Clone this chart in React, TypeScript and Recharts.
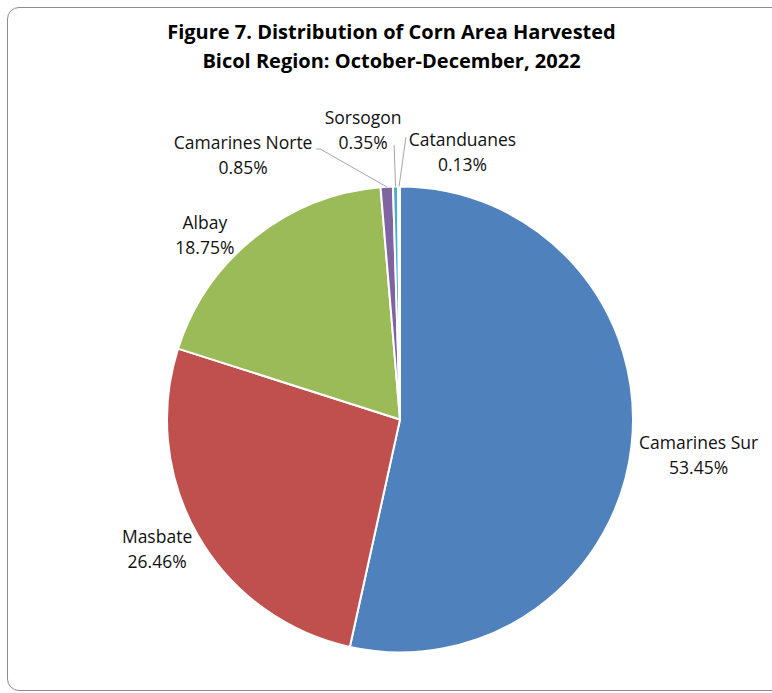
import React from 'react';
import { PieChart, Pie, Cell } from 'recharts';

const provinces = ['Camarines Sur', 'Masbate', 'Albay', 'Camarines Norte', 'Sorsogon', 'Catanduanes'];
const shares = [53.45, 26.46, 18.75, 0.85, 0.35, 0.13];
const sliceColors = ['#4F81BD', '#C0504D', '#9BBB59', '#8064A2', '#4BACC6', '#F79646'];
const titleLines = ['Figure 7. Distribution of Corn Area Harvested', 'Bicol Region: October-December, 2022'];

// label placement relative to each slice's outer edge point
const labelLayout: { dx: number; dy: number; line?: number[][] }[] = [
  { dx: 67, dy: 10 },
  { dx: -41, dy: 13 },
  { dx: -50, dy: -3 },
  { dx: -143.6, dy: -32, line: [[-66.6, -37.9], [-70.6, -37.9]] },
  { dx: -32.4, dy: -57.5, line: [[-1.4, -41.5]] },
  { dx: 63.4, dy: -35.5, line: [[6.9, -49.5]] },
];

const data = provinces.map((name, i) => ({ name, value: shares[i] }));

const FONT = "'Open Sans', sans-serif";
const RADIAN = Math.PI / 180;

const renderLabel = (props: any) => {
  const { cx, cy, midAngle, outerRadius, index } = props;
  const ex = cx + outerRadius * Math.cos(-midAngle * RADIAN);
  const ey = cy + outerRadius * Math.sin(-midAngle * RADIAN);
  const lay = labelLayout[index];
  const tx = ex + lay.dx;
  const ty = ey + lay.dy;
  const pts = lay.line ? [[ex, ey], ...lay.line.map(([a, b]) => [ex + a, ey + b])] : null;
  return (
    <g key={`lbl-${index}`}>
      {pts && (
        <polyline
          points={pts.map((p) => p.join(',')).join(' ')}
          fill="none"
          stroke="#A6A6A6"
          strokeWidth={1}
        />
      )}
      <text x={tx} y={ty - 12.5} textAnchor="middle" dominantBaseline="central" fill="#111" fontFamily={FONT} fontSize={17.5}>
        {provinces[index]}
      </text>
      <text x={tx} y={ty + 12.5} textAnchor="middle" dominantBaseline="central" fill="#111" fontFamily={FONT} fontSize={17.5}>
        {shares[index].toFixed(2)}%
      </text>
    </g>
  );
};

export default function App() {
  return (
    <div style={{ position: 'absolute', left: 0, top: 0, width: 772, height: 693, overflow: 'hidden', background: '#fff' }}>
      <div
        style={{
          position: 'absolute',
          left: 7,
          top: 7,
          width: 820,
          height: 684,
          border: '1.5px solid #8C8C8C',
          borderRadius: 12,
          boxSizing: 'border-box',
        }}
      />
      <div style={{ position: 'absolute', left: 0, top: 0 }}>
        <PieChart width={772} height={693} margin={{ top: 0, right: 0, bottom: 0, left: 0 }}>
          <text x={391.5} y={31} textAnchor="middle" dominantBaseline="central" fontFamily={FONT} fontWeight={700} fontSize={20} fill="#000">
            {titleLines[0]}
          </text>
          <text x={391.5} y={60} textAnchor="middle" dominantBaseline="central" fontFamily={FONT} fontWeight={700} fontSize={20} fill="#000">
            {titleLines[1]}
          </text>
          <Pie
            data={data}
            dataKey="value"
            nameKey="name"
            cx={400}
            cy={419.5}
            outerRadius={233}
            startAngle={90}
            endAngle={-270}
            stroke="#fff"
            strokeWidth={2}
            label={renderLabel}
            labelLine={false}
            isAnimationActive={false}
          >
            {data.map((d, i) => (
              <Cell key={d.name} fill={sliceColors[i]} />
            ))}
          </Pie>
        </PieChart>
      </div>
    </div>
  );
}
